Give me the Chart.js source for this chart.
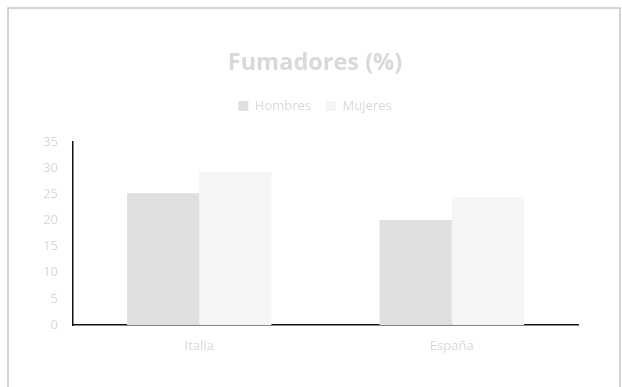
<!DOCTYPE html>
<html>
<head>
<meta charset="utf-8">
<script src="https://cdn.jsdelivr.net/npm/chart.js@4.4.1/dist/chart.umd.min.js"></script>
<style>
  html, body { margin: 0; padding: 0; background: #ffffff; }
  #wrap { position: relative; width: 622px; height: 387px; }
</style>
</head>
<body>
<div id="wrap"><canvas id="chart" width="622" height="387"></canvas></div>
<script>
// Smokers by country and sex (%)
const categories = ['Italia', 'España'];
const seriesNames = ['Hombres', 'Mujeres'];
const hombres = [25.2, 20.1];
const mujeres = [29.3, 24.5];
const yTicks = [0, 5, 10, 15, 20, 25, 30, 35];

const textColor = '#d9d9d9';
const fontFamily = "'Open Sans', 'DejaVu Sans', sans-serif";

// Light frame around the whole chart
const framePlugin = {
  id: 'frame',
  beforeDraw(chart) {
    const ctx = chart.ctx;
    ctx.save();
    ctx.fillStyle = '#ffffff';
    ctx.fillRect(0, 0, chart.width, chart.height);
    ctx.strokeStyle = '#c6c6c6';
    ctx.lineWidth = 1.5;
    ctx.strokeRect(8, 8, 612, 400);
    ctx.restore();
  }
};

new Chart(document.getElementById('chart'), {
  type: 'bar',
  data: {
    labels: categories,
    datasets: [
      { label: seriesNames[0], data: hombres, backgroundColor: '#dfdfdf' },
      { label: seriesNames[1], data: mujeres, backgroundColor: '#f4f5f5' }
    ]
  },
  options: {
    responsive: false,
    animation: false,
    events: [],
    layout: { padding: { top: 0, left: 8, right: 0, bottom: 0 } },
    datasets: { bar: { categoryPercentage: 0.572, barPercentage: 1.0 } },
    plugins: {
      title: {
        display: true,
        text: 'Fumadores (%)',
        color: textColor,
        font: { family: fontFamily, size: 23.5, weight: 'bold', lineHeight: 0.6 },
        padding: { top: 56, bottom: 14.4 }
      },
      subtitle: {
        display: true,
        text: ' ',
        weight: 500,
        color: 'rgba(0,0,0,0)',
        font: { size: 1, lineHeight: 1 },
        padding: { top: 0, bottom: 18.5 }
      },
      legend: {
        display: true,
        position: 'top',
        labels: {
          color: textColor,
          font: { family: fontFamily, size: 13 },
          boxWidth: 10,
          boxHeight: 10,
          padding: 15
        }
      },
      tooltip: { enabled: false }
    },
    scales: {
      x: {
        grid: { display: false, drawTicks: false },
        border: { display: true, color: '#111111', width: 1.5 },
        ticks: { color: textColor, font: { family: fontFamily, size: 13 }, padding: 13 },
        afterFit(scale) { scale.height = 62; }
      },
      y: {
        min: 0,
        max: 35,
        afterBuildTicks(scale) { scale.ticks = yTicks.map(v => ({ value: v })); },
        grid: { display: false, drawTicks: false },
        border: { display: true, color: '#111111', width: 1.5 },
        ticks: { color: textColor, font: { family: fontFamily, size: 13 }, padding: 15 },
        afterFit(scale) { scale.width = 65; }
      },
      // empty right-hand margin inside the frame
      yRight: {
        position: 'right',
        min: 0,
        max: 35,
        grid: { display: false, drawTicks: false },
        border: { display: false },
        ticks: { display: false },
        afterFit(scale) { scale.width = 44; }
      }
    }
  },
  plugins: [framePlugin]
});
</script>
</body>
</html>
